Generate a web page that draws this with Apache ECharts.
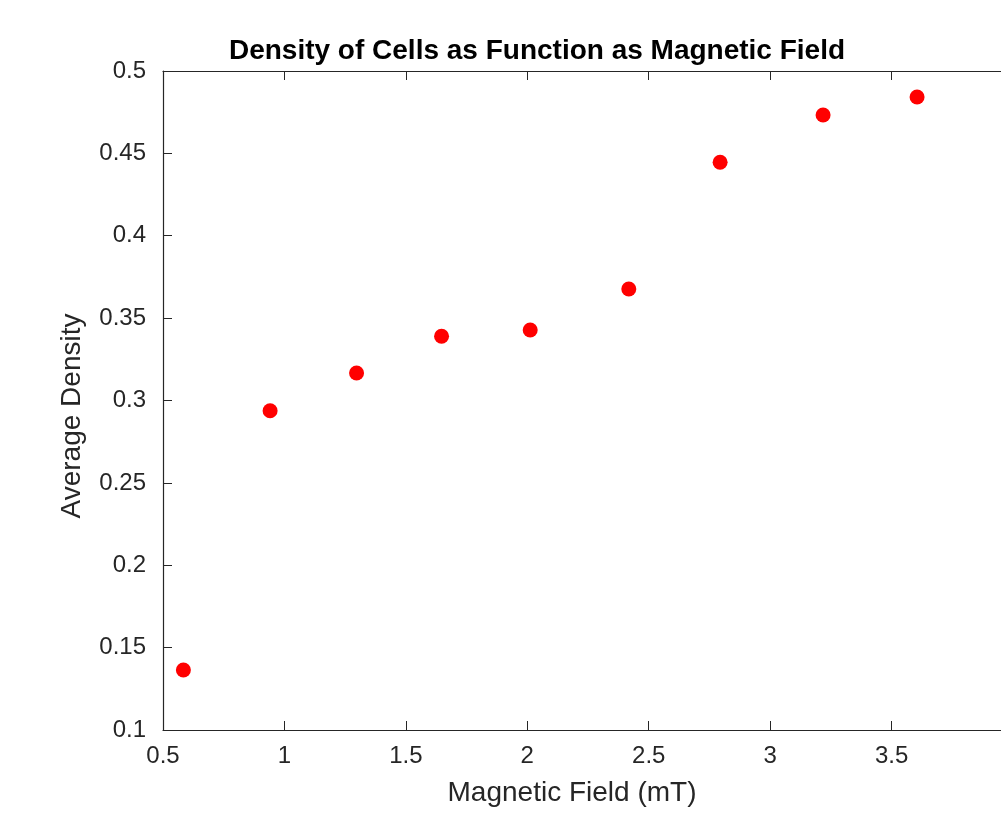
<!DOCTYPE html>
<html>
<head>
<meta charset="UTF-8">
<title>Density of Cells</title>
<script src="https://cdn.jsdelivr.net/npm/echarts@6/dist/echarts.min.js"></script>
<style>
  html, body { margin: 0; padding: 0; background: #fff; }
  #main { width: 1001px; height: 815px; }
</style>
</head>
<body>
<div id="main"></div>
<script>
// magnetic field (mT) and average density
var fieldValues = [0.584, 0.941, 1.297, 1.647, 2.012, 2.418, 2.794, 3.218, 3.605];
var densityValues = [0.1364, 0.2938, 0.3167, 0.339, 0.3428, 0.3677, 0.4446, 0.4733, 0.4842];
var xTicks = [0.5, 1, 1.5, 2, 2.5, 3, 3.5];
var yTicks = [0.1, 0.15, 0.2, 0.25, 0.3, 0.35, 0.4, 0.45, 0.5];

var chart = echarts.init(document.getElementById('main'));
var axisColor = '#262626';
var font = 'Liberation Sans, Arial, sans-serif';

var points = fieldValues.map(function (x, i) { return [x, densityValues[i]]; });

function fmt(v) { return String(+v.toFixed(2)); }

var option = {
  backgroundColor: '#fff',
  animation: false,
  title: {
    text: 'Density of Cells as Function as Magnetic Field',
    left: 532,
    top: 32,
    textAlign: 'center',
    textStyle: { fontFamily: font, fontSize: 28, fontWeight: 'bold', color: '#000' }
  },
  // the axes run past the right edge of the picture, as in the original
  grid: { left: 163, top: 71, width: 850, height: 659, containLabel: false, outerBoundsMode: 'none' },
  xAxis: [{
    type: 'value',
    min: 0.5,
    max: 4,
    interval: 0.5,
    position: 'bottom',
    axisLine: { lineStyle: { color: axisColor, width: 1.2 } },
    axisTick: { inside: true, length: 9, lineStyle: { color: axisColor } },
    axisLabel: {
      showMaxLabel: false,
      margin: 14,
      color: axisColor,
      fontFamily: font,
      fontSize: 24,
      formatter: function (v) { return xTicks.indexOf(v) >= 0 ? fmt(v) : ''; }
    },
    splitLine: { show: false }
  }, {
    type: 'value',
    min: 0.5,
    max: 4,
    interval: 0.5,
    position: 'top',
    axisLine: { lineStyle: { color: axisColor, width: 1.2 } },
    axisTick: { inside: true, length: 9, lineStyle: { color: axisColor } },
    axisLabel: { show: false },
    splitLine: { show: false }
  }],
  yAxis: {
    type: 'value',
    min: 0.1,
    max: 0.5,
    interval: 0.05,
    axisLine: { show: true, lineStyle: { color: axisColor, width: 1.2 } },
    axisTick: { show: true, inside: true, length: 9, lineStyle: { color: axisColor } },
    axisLabel: {
      margin: 17,
      color: axisColor,
      fontFamily: font,
      fontSize: 24,
      formatter: function (v) { return yTicks.some(function (t) { return Math.abs(t - v) < 1e-9; }) ? fmt(v) : ''; }
    },
    splitLine: { show: false }
  },
  graphic: [{
    type: 'text',
    x: 572,
    y: 793,
    style: {
      text: 'Magnetic Field (mT)',
      fill: axisColor,
      font: '28px ' + font,
      align: 'center',
      verticalAlign: 'middle'
    }
  }, {
    type: 'text',
    x: 72,
    y: 416,
    rotation: Math.PI / 2,
    style: {
      text: 'Average Density',
      fill: axisColor,
      font: '28px ' + font,
      align: 'center',
      verticalAlign: 'middle'
    }
  }],
  series: [{
    type: 'scatter',
    data: points,
    symbol: 'circle',
    symbolSize: 15,
    itemStyle: { color: '#ff0000', opacity: 1 }
  }]
};

chart.setOption(option);
</script>
</body>
</html>
